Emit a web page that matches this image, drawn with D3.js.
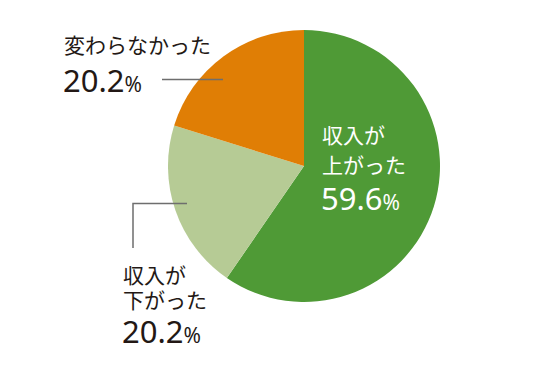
<!DOCTYPE html>
<html><head><meta charset="utf-8">
<script src="https://cdn.jsdelivr.net/npm/d3@7"></script>
<style>
html,body{margin:0;padding:0;background:#fff;}
svg{display:block;}
</style></head>
<body>
<svg id="chart" width="550" height="387"></svg>
<script>
const categories = ["収入が上がった", "収入が下がった", "変わらなかった"];
const values = [59.6, 20.2, 20.2];
const colors = ["#4f9a36", "#b6cb95", "#e07e05"];
const labelLines = [["収入が", "上がった"], ["収入が", "下がった"], ["変わらなかった"]];
const valueLabels = ["59.6", "20.2", "20.2"];

const svg = d3.select("#chart");
const cx = 304, cy = 166, r = 136;
const g = svg.append("g").attr("transform", `translate(${cx},${cy})`);

const pie = d3.pie().sort(null).value(d => d.v);
const data = categories.map((c, i) => ({c, v: values[i], i}));
const arcs = pie(data);
const arc = d3.arc().innerRadius(0).outerRadius(r);

g.selectAll("path").data(arcs).join("path")
  .attr("d", arc)
  .attr("fill", d => colors[d.data.i]);

const jp = "'Noto Sans CJK JP', 'Noto Sans', sans-serif";
const num = "'Noto Sans', 'Open Sans', sans-serif";

// leader lines
const lineColor = "#6e6e6e";
svg.append("path").attr("d", "M162,79.5H223").attr("stroke", lineColor).attr("stroke-width", 1.5).attr("fill", "none");
svg.append("path").attr("d", "M133,248V203.5H187").attr("stroke", lineColor).attr("stroke-width", 1.5).attr("fill", "none");

function label(x, ys, lines, val, color, numY) {
  const t = svg.append("g").attr("fill", color);
  lines.forEach((l, k) => {
    t.append("text").attr("x", x).attr("y", ys[k])
      .attr("font-family", jp).attr("font-size", 21).text(l);
  });
  const v = t.append("text").attr("x", x - 1).attr("y", numY).attr("font-family", num);
  v.append("tspan").attr("font-size", 31).text(val);
  v.append("tspan").attr("font-size", 21).text("%");
}

label(322, [143, 173], labelLines[0], valueLabels[0], "#ffffff", 210);
label(123, [283, 308], labelLines[1], valueLabels[1], "#231815", 343);
label(64, [53], labelLines[2], valueLabels[2], "#231815", 92);
</script>
</body></html>
